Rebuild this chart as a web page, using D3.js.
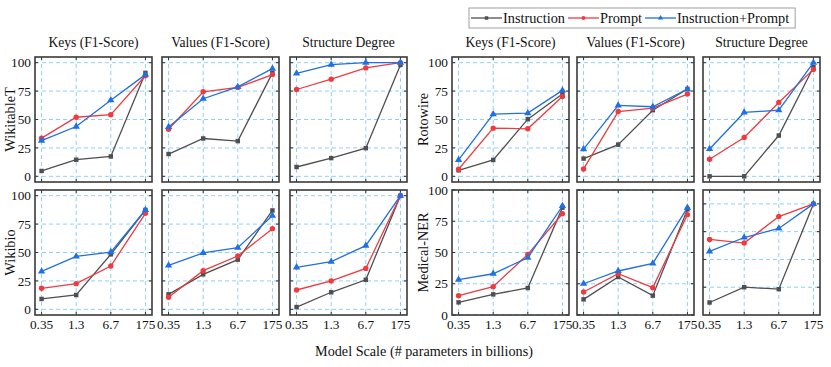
<!DOCTYPE html>
<html>
<head>
<meta charset="utf-8">
<script src="https://cdn.jsdelivr.net/npm/d3@7"></script>
<style>
  body { margin: 0; background: #fff; }
</style>
</head>
<body>
<svg id="chart" width="831" height="367" font-family="'Liberation Serif', 'Times New Roman', serif"></svg>
<script>
// ---- data ----
const categories = ["0.35", "1.3", "6.7", "175"];
const seriesNames = ["Instruction", "Prompt", "Instruction+Prompt"];
const metrics = ["Keys (F1-Score)", "Values (F1-Score)", "Structure Degree"];
const yTicks = [0, 25, 50, 75, 100];
const medStructTicks = [20, 40, 60, 80];

// each dataset: [keys, values, structure], each metric: [Instruction, Prompt, Instruction+Prompt]
const wikitableT = [
  [[4.7, 14.6, 17.5, 91], [33.6, 52, 54.2, 88.5], [31.5, 43.8, 67, 89.5]],
  [[19.6, 33.3, 31, 91], [41.4, 74.4, 78.2, 89.5], [43.5, 68.3, 78.7, 94.8]],
  [[8.2, 16, 24.8, 98], [76.4, 85.5, 95.4, 100], [90.5, 98.3, 100, 100]]
];
const wikibio = [
  [[9.1, 12.6, 48.4, 87.4], [18.5, 22.6, 38.1, 84.5], [33.4, 46.6, 50.4, 87.4]],
  [[13.2, 30.8, 43.7, 87], [10.6, 34, 46.9, 71], [38.7, 49.6, 54.3, 82.4]],
  [[2, 15, 26, 100], [17, 25, 36, 100], [37, 42, 56, 100]]
];
const rotowire = [
  [[5.3, 14.4, 50.3, 72.4], [6.2, 42.4, 41.8, 70.3], [14.4, 54.7, 55.6, 75.6]],
  [[15.6, 27.9, 58.2, 76.8], [6.5, 57, 60, 72.4], [24, 62.4, 61.2, 76.8]],
  [[0, 0, 35.9, 96], [15, 34.1, 65, 94.1], [24.1, 56.2, 58.2, 100]]
];
const medicalNER = [
  [[10.1, 16.5, 21.6, 85.9], [15.5, 22.7, 48.5, 81], [28.3, 33, 45.9, 87.2]],
  [[12.5, 30.4, 15.5, 84.5], [18.4, 33, 21.9, 80.3], [25, 35.2, 41.3, 85.9]],
  [[9, 20, 18.6, 80], [54.4, 51.8, 70.9, 80], [45.8, 55.8, 62.3, 80]]
];

// ---- layout ----
const svg = d3.select("#chart");
const colors = ["#4f4f4f", "#ee3b40", "#1f6fe5"];
const symbols = [d3.symbolSquare, d3.symbolCircle, d3.symbolTriangle];
const symSizes = [20, 23, 23];
const pw = 117, ph = 125;
const groups = [
  { x: [35, 162, 290], rows: [["WikitableT", wikitableT], ["Wikibio", wikibio]], labelX: 10 },
  { x: [452, 577, 703], rows: [["Rotowire", rotowire], ["Medical-NER", medicalNER]], labelX: 423 }
];
const rowY = [57, 190];

function drawPanel(g, x0, y0, vals, y, ticks, showLabels, showX) {
  let xs = d3.scalePoint().domain(categories).range([x0, x0 + pw]).padding(0.19);
  let p = g.append("g");
  // grid
  p.selectAll(".gx").data(categories).join("line")
    .attr("x1", d => xs(d)).attr("x2", d => xs(d))
    .attr("y1", y0).attr("y2", y0 + ph)
    .attr("stroke", "#8fd0fa").attr("stroke-width", 1).attr("stroke-dasharray", "4,3");
  p.selectAll(".gy").data(ticks).join("line")
    .attr("x1", x0).attr("x2", x0 + pw)
    .attr("y1", d => y(d)).attr("y2", d => y(d))
    .attr("stroke", "#8fd0fa").attr("stroke-width", 1).attr("stroke-dasharray", "4,3");
  // inward ticks on all sides
  let tk = 3;
  for (let t of ticks) {
    p.append("line").attr("x1", x0).attr("x2", x0 + tk).attr("y1", y(t)).attr("y2", y(t)).attr("stroke", "#333");
    p.append("line").attr("x1", x0 + pw).attr("x2", x0 + pw - tk).attr("y1", y(t)).attr("y2", y(t)).attr("stroke", "#333");
  }
  for (let c of categories) {
    p.append("line").attr("x1", xs(c)).attr("x2", xs(c)).attr("y1", y0 + ph).attr("y2", y0 + ph - tk).attr("stroke", "#333");
    p.append("line").attr("x1", xs(c)).attr("x2", xs(c)).attr("y1", y0).attr("y2", y0 + tk).attr("stroke", "#333");
  }
  // series
  vals.forEach((s, i) => {
    let line = d3.line().x((d, j) => xs(categories[j])).y(d => y(d));
    p.append("path").attr("d", line(s)).attr("fill", "none")
      .attr("stroke", colors[i]).attr("stroke-width", 1.3);
    p.selectAll(".m" + i).data(s).join("path")
      .attr("transform", (d, j) => `translate(${xs(categories[j])},${y(d)})`)
      .attr("d", d3.symbol().type(symbols[i]).size(symSizes[i]))
      .attr("fill", colors[i]);
  });
  // frame
  p.append("rect").attr("x", x0).attr("y", y0).attr("width", pw).attr("height", ph)
    .attr("fill", "none").attr("stroke", "#3a3a3a").attr("stroke-width", 1.6);
  if (showLabels) {
    p.selectAll(".yl").data(ticks).join("text")
      .attr("x", x0 - 4).attr("y", d => y(d)).attr("dy", "0.35em")
      .attr("text-anchor", "end").attr("font-size", 13.3).attr("fill", "#111").text(d => d);
  }
  if (showX) {
    p.selectAll(".xl").data(categories).join("text")
      .attr("x", d => xs(d)).attr("y", y0 + ph + 14)
      .attr("text-anchor", "middle").attr("font-size", 13.3).attr("fill", "#111").text(d => d);
  }
}

groups.forEach((grp, gi) => {
  metrics.forEach((m, k) => {
    svg.append("text").attr("x", grp.x[k] + pw / 2).attr("y", 47)
      .attr("text-anchor", "middle").attr("font-size", 13.6).attr("fill", "#111").text(m);
  });
  grp.rows.forEach(([name, data], r) => {
    let y0 = rowY[r];
    svg.append("text")
      .attr("transform", `translate(${grp.labelX},${y0 + ph / 2}) rotate(-90)`)
      .attr("text-anchor", "middle").attr("dy", "0.35em").attr("font-size", 14.3)
      .attr("fill", "#111").text(name);
    data.forEach((vals, k) => {
      let y, ticks;
      if (name === "Medical-NER" && k === 2) {
        y = d3.scaleLinear().domain([0, 90]).range([y0 + ph, y0]);
        ticks = medStructTicks;
      } else if (name === "Medical-NER") {
        y = d3.scaleLinear().domain([0, 100]).range([y0 + ph, y0]);
        ticks = yTicks;
      } else {
        y = d3.scaleLinear().domain([-5, 105]).range([y0 + ph, y0]);
        ticks = yTicks;
      }
      drawPanel(svg, grp.x[k], y0, vals, y, ticks, k === 0, r === 1);
    });
  });
});

// x label
svg.append("text").attr("x", 424).attr("y", 356).attr("text-anchor", "middle")
  .attr("font-size", 14.2).attr("fill", "#111").text("Model Scale (# parameters in billions)");

// legend
let lg = svg.append("g");
let box = lg.append("rect").attr("y", 8).attr("height", 20)
  .attr("fill", "#fff").attr("stroke", "#a0a0a0").attr("stroke-width", 1);
let lx = 471;
seriesNames.forEach((n, i) => {
  lg.append("line").attr("x1", lx).attr("x2", lx + 31).attr("y1", 18).attr("y2", 18)
    .attr("stroke", colors[i]).attr("stroke-width", 1.3);
  lg.append("path").attr("transform", `translate(${lx + 15.5},18)`)
    .attr("d", d3.symbol().type(symbols[i]).size(12)).attr("fill", colors[i]);
  let t = lg.append("text").attr("x", lx + 32).attr("y", 23).attr("font-size", 14.3)
    .attr("fill", "#111").text(n);
  lx += 32 + t.node().getComputedTextLength() + 3;
});
box.attr("x", 469).attr("width", lx - 469 + 3);
</script>
</body>
</html>
